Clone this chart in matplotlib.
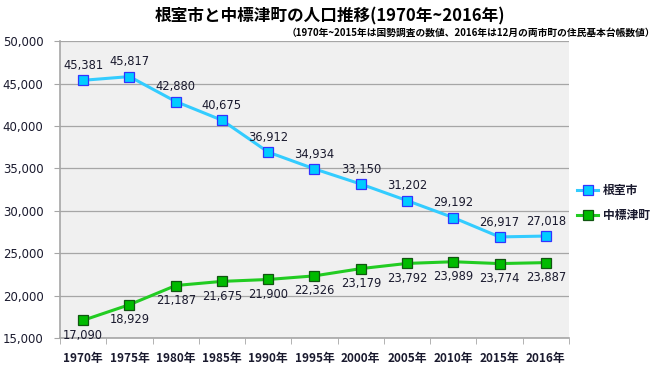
import matplotlib
matplotlib.use("Agg")
import matplotlib.pyplot as plt
import numpy as np

plt.rcParams["font.family"] = ["Noto Sans CJK JP", "DejaVu Sans"]

# ---------------------- data ----------------------
years = ["1970年", "1975年", "1980年", "1985年", "1990年", "1995年",
         "2000年", "2005年", "2010年", "2015年", "2016年"]
nemuro = [45381, 45817, 42880, 40675, 36912, 34934, 33150, 31202, 29192, 26917, 27018]
nakashibetsu = [17090, 18929, 21187, 21675, 21900, 22326, 23179, 23792, 23989, 23774, 23887]
yticks = [15000, 20000, 25000, 30000, 35000, 40000, 45000, 50000]

title = "根室市と中標津町の人口推移(1970年~2016年)"
subtitle = "（1970年~2015年は国勢調査の数値、2016年は12月の両市町の住民基本台帳数値）"

num_font = ["DejaVu Sans"]
txt_color = "#1a1a2e"

# ---------------------- plot ----------------------
fig = plt.figure(figsize=(6.6, 3.67), dpi=100)
ax = fig.add_axes([0.091, 0.079, 0.771, 0.809])
ax.set_facecolor("#f0f0f0")

x = np.arange(len(years))
ax.plot(x, nemuro, color="#33ccff", lw=2.2, marker="s", ms=6.5,
        mfc="#00ccff", mec="#3333ff", mew=0.9, label="根室市", zorder=3)
ax.plot(x, nakashibetsu, color="#22cc22", lw=2.2, marker="s", ms=6.5,
        mfc="#00bb00", mec="#115511", mew=0.9, label="中標津町", zorder=3)

for xi, v in zip(x, nemuro):
    ax.annotate(f"{v:,}", (xi, v), xytext=(0, 6), textcoords="offset points",
                ha="center", va="bottom", fontsize=8.3, color=txt_color,
                family=num_font)
for xi, v in zip(x, nakashibetsu):
    ax.annotate(f"{v:,}", (xi, v), xytext=(0, -6), textcoords="offset points",
                ha="center", va="top", fontsize=8.3, color=txt_color,
                family=num_font)

ax.set_xlim(-0.5, len(years) - 0.5)
ax.set_ylim(15000, 50000)
ax.set_yticks(yticks)
ax.set_yticklabels([f"{t:,}" for t in yticks], fontsize=8.5, family=num_font,
                   color=txt_color)
ax.yaxis.grid(True, color="#a6a6a6", lw=0.9)
ax.set_axisbelow(True)

ax.set_xticks(x)
ax.set_xticklabels(years, fontsize=8.5, fontweight="bold", color=txt_color)
ax.set_xticks(np.arange(-0.5, len(years)), minor=True)
ax.tick_params(axis="x", which="major", length=0, pad=10)
ax.tick_params(axis="x", which="minor", length=4, color="#a6a6a6")
ax.tick_params(axis="y", length=4, color="#a6a6a6", pad=8)

for s in ["top", "right"]:
    ax.spines[s].set_visible(False)
for s in ["left", "bottom"]:
    ax.spines[s].set_color("#a6a6a6")
    ax.spines[s].set_linewidth(1.2)

fig.text(0.5, 0.955, title, ha="center", va="center", fontsize=12, fontweight="bold")
fig.text(0.993, 0.91, subtitle, ha="right", va="center", fontsize=7, fontweight="bold")

leg = ax.legend(loc="center left", bbox_to_anchor=(0.995, 0.455), frameon=False,
                handlelength=1.8, handletextpad=0.4, labelspacing=1.0,
                prop={"size": 8.5, "weight": "bold"})
for t in leg.get_texts():
    t.set_color(txt_color)

fig.savefig("out.png", dpi=100)
